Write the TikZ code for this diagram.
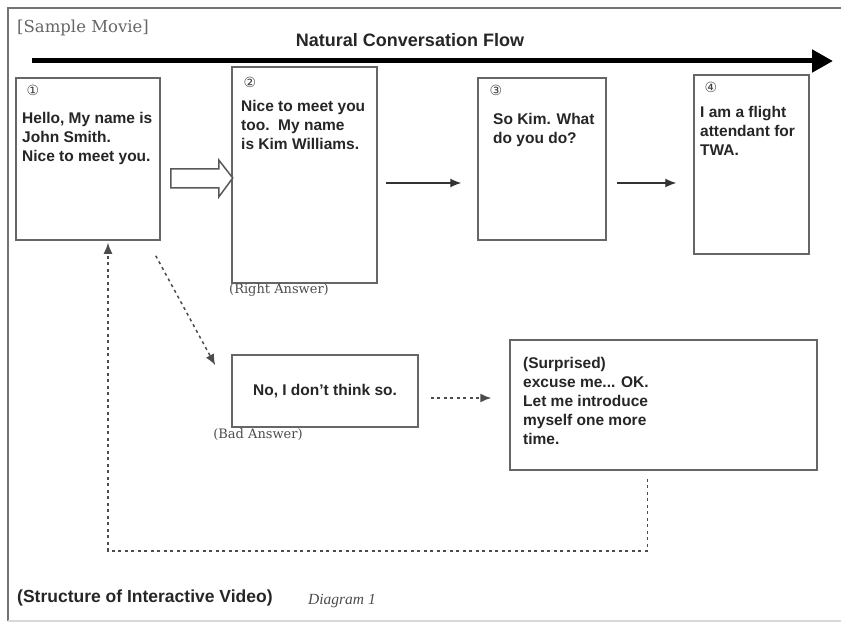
\documentclass[tikz,border=0pt]{standalone}
\usepackage{fontspec}
\setmainfont{Liberation Sans}
\newfontfamily\notefont{DejaVu Serif}
\newfontfamily\captionserif{Liberation Serif}
\newfontfamily\circfont{DejaVu Sans}
\usepackage{xcolor}
\usetikzlibrary{arrows.meta, calc}

\begin{document}
\begin{tikzpicture}[
    x=1pt, y=-1pt,
    card/.style={rectangle, draw=black!60, line width=1.5pt, fill=white,
                 inner sep=0pt},
    speech/.style={anchor=north west, inner sep=0pt, align=left,
                   font=\bfseries\fontsize{15.5}{19}\selectfont, text=black!85},
    num/.style={inner sep=0pt, font=\circfont\fontsize{14}{14}\selectfont,
                text=black!75},
    answer/.style={inner sep=0pt, font=\notefont\fontsize{13}{15}\selectfont,
                   text=black!70},
    flow/.style={-{Latex[length=11pt,width=9pt]}, line width=1.2pt, black!80},
    miss/.style={-{Latex[length=11pt,width=9pt]}, line width=1.5pt, black!70,
                 dash pattern=on 3pt off 3.5pt},
    hollow/.style={draw=black!65, line width=1.5pt, fill=white, line join=miter},
]
  \useasboundingbox (0,0) rectangle (841,623);

  % frame
  \draw[black!55, line width=2pt] (841,8) -- (8,8) -- (8,621);
  \draw[black!15, line width=1.5pt] (8,621) -- (841,621);

  \node[anchor=west, inner sep=0pt, font=\notefont\fontsize{16.5}{18}\selectfont,
        text=black!60] (movie) at (17,28) {[Sample Movie]};
  \node[inner sep=0pt, font=\bfseries\fontsize{18}{20}\selectfont, text=black!85]
        (natural) at (410,40) {Natural Conversation Flow};

  \coordinate (flowstart) at (32,61);
  \coordinate (flowend) at (833,61);
  \draw[line width=5pt, -{Triangle[length=21pt,width=22pt]}] (flowstart) -- (flowend);

  % dialogue cards
  \node[card, minimum width=144, minimum height=162] (b1) at (88,159) {};
  \node[card, minimum width=145, minimum height=216] (b2) at (304.5,175) {};
  \node[card, minimum width=128, minimum height=162] (b3) at (542,159) {};
  \node[card, minimum width=115, minimum height=179] (b4) at (751.5,164.5) {};
  \node[card, minimum width=186, minimum height=72]  (b5) at (325,391) {};
  \node[card, minimum width=307, minimum height=130] (b6) at (663.5,405) {};

  \node[num] (n1) at (33,90) {①};
  \node[num] (n2) at (250,82) {②};
  \node[num] (n3) at (496,90) {③};
  \node[num] (n4) at (711,87) {④};

  \node[speech] (t1) at (22,112) {Hello, My name is\\John Smith.\\Nice to meet you.};
  \node[speech] (t2) at (241,100) {Nice to meet you\\too.\ \ My name\\is Kim Williams.};
  \node[speech] (t3) at (493,113) {So Kim. What\\do you do?};
  \node[speech] (t4) at (700,106) {I am a flight\\attendant for\\TWA.};
  \node[speech, anchor=center] (t5) at (b5.center) {No, I don't think so.};
  \node[speech] (t6) at (523,357) {(Surprised)\\excuse me... OK.\\Let me introduce\\myself one more\\time.};

  \node[answer] (right) at (279,290) {(Right Answer)};
  \node[answer] (bad) at (258,435) {(Bad Answer)};

  % connectors
  \draw[hollow] ($(b1.east)+(10,10)$) -- ++(48,0) -- ++(0,-9) -- ++(14,18)
        -- ++(-14,19) -- ++(0,-9) -- ++(-48,0) -- cycle;
  \draw[flow] ($(b2.east)+(8,8)$) -- ($(b3.west)+(-16,24)$);
  \draw[flow] ($(b3.east)+(10,24)$) -- ($(b4.west)+(-17,18.5)$);
  \draw[miss] ($(b1.south east)+(-5,15)$) -- ($(b5.north west)+(-16,11)$);
  \draw[miss] ($(b5.east)+(12,7)$) -- ($(b6.west)+(-18,-7)$);
  \draw[miss] ($(b6.south west)+(138,8)$) |- ($(b1.south)+(20,310)$)
        -- ($(b1.south)+(20,2)$);

  \node[anchor=west, inner sep=0pt, font=\bfseries\fontsize{17.5}{20}\selectfont,
        text=black!85] (structure) at (17,598) {(Structure of Interactive Video)};
  \node[anchor=west, inner sep=0pt, font=\captionserif\itshape\fontsize{15.5}{17}\selectfont,
        text=black!70] (diagram) at (308,601) {Diagram 1};
\end{tikzpicture}
\end{document}
